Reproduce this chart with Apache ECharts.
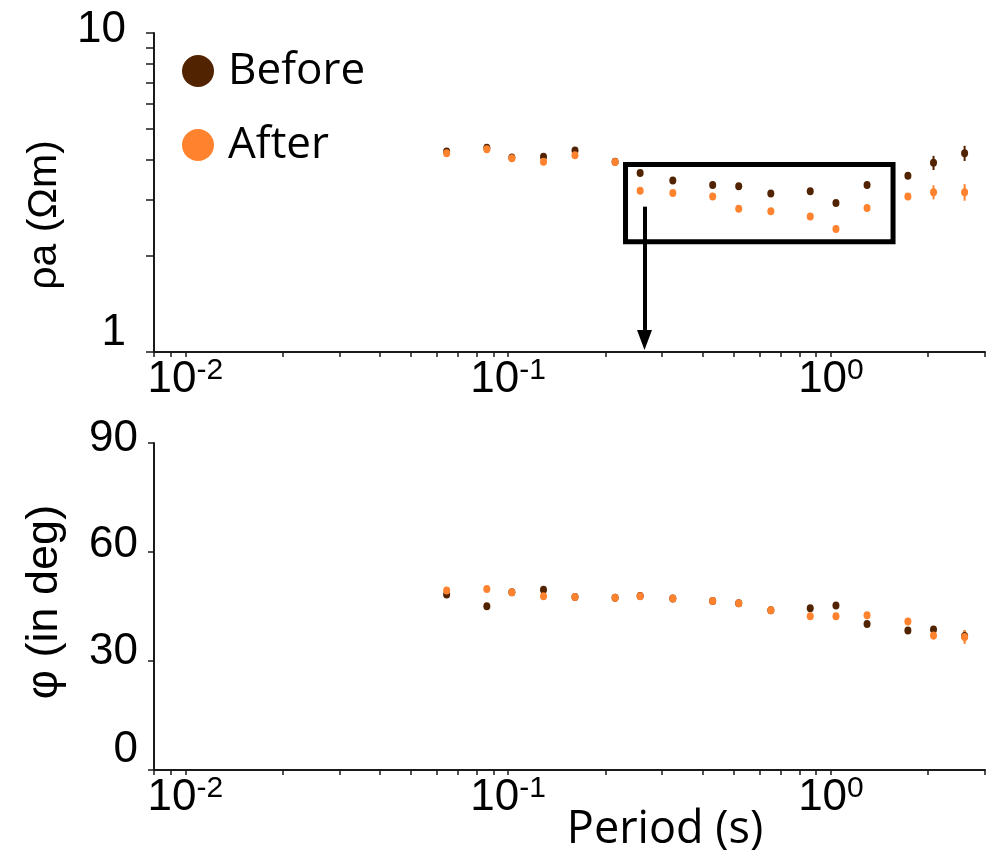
<!DOCTYPE html>
<html><head><meta charset="utf-8">
<script src="https://cdn.jsdelivr.net/npm/echarts@6/dist/echarts.min.js"></script>
<style>html,body{margin:0;padding:0;background:#fff}#c{width:986px;height:857px}</style>
</head><body><div id="c"></div>
<script>
const periods = [0.0645,0.0859,0.1027,0.1287,0.1611,0.2145,0.2564,0.3237,0.4301,0.5179,0.6512,0.8626,1.0363,1.2935,1.731,2.078,2.594];
const rhoBefore = [4.25,4.37,4.07,4.09,4.28,3.95,3.64,3.45,3.34,3.31,3.14,3.19,2.93,3.34,3.57,3.92,4.20];
const rhoAfter  = [4.20,4.32,4.05,3.95,4.14,3.94,3.20,3.15,3.07,2.81,2.76,2.66,2.43,2.83,3.07,3.17,3.17];
const rhoErrBefore = [0,0,0,0,0,0,0,0,0,0,0,0,0,0,0,0.20,0.23];
const rhoErrAfter  = [0,0,0,0,0,0,0,0,0,0,0,0,0,0,0,0.16,0.19];
const phiBefore = [48.3,45.1,48.9,49.6,47.6,47.4,47.9,47.2,46.5,45.9,44.0,44.5,45.3,40.2,38.4,38.7,36.9];
const phiAfter  = [49.4,49.8,48.9,47.8,47.6,47.4,47.8,47.2,46.5,45.9,44.0,42.3,42.3,42.6,40.9,37.0,36.6];
const phiErrBefore = [0,0,0,0,0,0,0,0,0,0,0,0,0,0,0,0,1.5];
const phiErrAfter  = [0,0,0,0,0,0,0,0,0,0,0,0,0,0,0,1.1,1.9];
const xTickValues = [0.008,0.009,0.01,0.02,0.03,0.04,0.05,0.06,0.07,0.08,0.09,0.1,0.2,0.3,0.4,0.5,0.6,0.7,0.8,0.9,1,2,3];
const xLabelValues = [0.01,0.1,1];
const xLabelText = {'0.01':'-2','0.1':'-1','1':'0'};
const rhoTickValues = [1,2,3,4,5,6,7,8,9,10];
const rhoLabelValues = [1,10];
const phiLabelValues = [0,30,60,90];
const boxCorners = [[0.231,3.87],[1.557,2.216]];
const arrowEnds = [[0.2645,2.855],[0.2645,1.09]];

const DARK = '#522300', ORANGE = '#ff822e', AX = '#1a1a1a';
const LABEL_FONT = {fontFamily: 'Liberation Sans', fontSize: 44, color: '#000'};

function errSeries(name, vals, errs, color, xi, yi) {
  const data = [];
  periods.forEach((p, i) => { if (errs[i] > 0) data.push([p, vals[i] - errs[i], vals[i] + errs[i]]); });
  return {
    type: 'custom', name, xAxisIndex: xi, yAxisIndex: yi, data, z: 1, silent: true,
    encode: {x: 0, y: [1, 2]},
    renderItem(params, api) {
      const a = api.coord([api.value(0), api.value(1)]);
      const b = api.coord([api.value(0), api.value(2)]);
      return {type: 'line', shape: {x1: a[0], y1: a[1], x2: b[0], y2: b[1]}, style: {stroke: color, lineWidth: 2}};
    }
  };
}
function pts(vals) { return periods.map((p, i) => [p, vals[i]]); }

function xAxis(gi) {
  return {
    type: 'log', gridIndex: gi, min: 0.008, max: 3, logBase: 10,
    axisLine: {lineStyle: {color: AX, width: 2}},
    axisTick: {show: true, length: 5, lineStyle: {color: AX, width: 1.5}, customValues: xTickValues},
    splitLine: {show: false},
    axisLabel: {
      customValues: xLabelValues, margin: 4,
      formatter: v => '{b|10}{s|' + (xLabelText[String(+v.toPrecision(3))] || '') + '}',
      rich: {
        b: {fontFamily: 'Liberation Sans', fontSize: 44, color: '#000'},
        s: {fontFamily: 'Liberation Sans', fontSize: 30, color: '#000', verticalAlign: 'top', padding: [0, 0, 18, 0]}
      }
    }
  };
}

const chart = echarts.init(document.getElementById('c'), null, {renderer: 'canvas'});
chart.setOption({
  animation: false,
  backgroundColor: '#fff',
  grid: [
    {left: 154, top: 33, width: 831, height: 319},
    {left: 154, top: 443, width: 831, height: 327}
  ],
  legend: {
    data: ['Before', 'After'], orient: 'vertical', left: 177, top: 44,
    icon: 'circle', itemWidth: 32, itemHeight: 32, itemGap: 30,
    itemStyle: {opacity: 1},
    textStyle: {fontFamily: 'Open Sans', fontSize: 44, color: '#000', padding: [0, 0, 0, 9]}
  },
  xAxis: [xAxis(0), xAxis(1)],
  yAxis: [
    {
      type: 'log', gridIndex: 0, min: 1, max: 10, logBase: 10,
      axisLine: {show: true, lineStyle: {color: AX, width: 2}},
      axisTick: {show: true, length: 8, lineStyle: {color: AX, width: 1.5}, customValues: rhoTickValues},
      splitLine: {show: false},
      axisLabel: {customValues: rhoLabelValues, margin: 28,
        formatter: v => Math.round(v) === 1 ? '{lo|1}' : '{hi|10}',
        rich: {lo: Object.assign({padding: [0, 0, 38, 0]}, LABEL_FONT), hi: Object.assign({padding: [0, 0, 6, 0]}, LABEL_FONT)}}
    },
    {
      type: 'value', gridIndex: 1, min: 0, max: 90, interval: 30,
      axisLine: {show: true, lineStyle: {color: AX, width: 2}},
      axisTick: {show: true, length: 6, lineStyle: {color: AX, width: 1.5}},
      splitLine: {show: false},
      axisLabel: {margin: 16,
        formatter: v => '{p' + v + '|' + v + '}',
        rich: {
          p0: Object.assign({padding: [0, 0, 40, 0]}, LABEL_FONT),
          p30: Object.assign({padding: [0, 0, 18, 0]}, LABEL_FONT),
          p60: Object.assign({padding: [0, 0, 14, 0]}, LABEL_FONT),
          p90: Object.assign({padding: [0, 0, 8, 0]}, LABEL_FONT)
        }}
    }
  ],
  graphic: [
    {type: 'text', x: 45, y: 215, rotation: Math.PI / 2,
     style: {text: 'ρa (Ωm)', fontFamily: 'Liberation Sans', fontSize: 41, fill: '#000', align: 'center', verticalAlign: 'middle'}},
    {type: 'text', x: 45, y: 602, rotation: Math.PI / 2,
     style: {text: 'φ (in deg)', fontFamily: 'Liberation Sans', fontSize: 45, fill: '#000', align: 'center', verticalAlign: 'middle'}},
    {type: 'text', x: 665, y: 830,
     style: {text: 'Period (s)', fontFamily: 'Open Sans', fontSize: 45, fill: '#000', align: 'center', verticalAlign: 'middle'}}
  ],
  series: [
    errSeries('errRB', rhoBefore, rhoErrBefore, DARK, 0, 0),
    errSeries('errRA', rhoAfter, rhoErrAfter, ORANGE, 0, 0),
    errSeries('errPB', phiBefore, phiErrBefore, DARK, 1, 1),
    errSeries('errPA', phiAfter, phiErrAfter, ORANGE, 1, 1),
    {name: 'Before', type: 'scatter', xAxisIndex: 0, yAxisIndex: 0, data: pts(rhoBefore),
     symbol: 'circle', symbolSize: [7, 8], itemStyle: {color: DARK, opacity: 1}, z: 2},
    {name: 'After', type: 'scatter', xAxisIndex: 0, yAxisIndex: 0, data: pts(rhoAfter),
     symbol: 'circle', symbolSize: [7, 8], itemStyle: {color: ORANGE, opacity: 1}, z: 3,
     markArea: {silent: true, itemStyle: {color: 'rgba(0,0,0,0)', borderColor: '#000', borderWidth: 5},
       data: [[{coord: boxCorners[0]}, {coord: boxCorners[1]}]]},
     markLine: {silent: true, symbol: ['none', 'triangle'], symbolSize: [15, 20], symbolRotate: 180,
       lineStyle: {color: '#000', width: 4, type: 'solid'}, label: {show: false},
       data: [[{coord: arrowEnds[0]}, {coord: arrowEnds[1]}]]}},
    {name: 'Before', type: 'scatter', xAxisIndex: 1, yAxisIndex: 1, data: pts(phiBefore),
     symbol: 'circle', symbolSize: [7, 8], itemStyle: {color: DARK, opacity: 1}, z: 2},
    {name: 'After', type: 'scatter', xAxisIndex: 1, yAxisIndex: 1, data: pts(phiAfter),
     symbol: 'circle', symbolSize: [7, 8], itemStyle: {color: ORANGE, opacity: 1}, z: 3}
  ]
});
</script></body></html>
